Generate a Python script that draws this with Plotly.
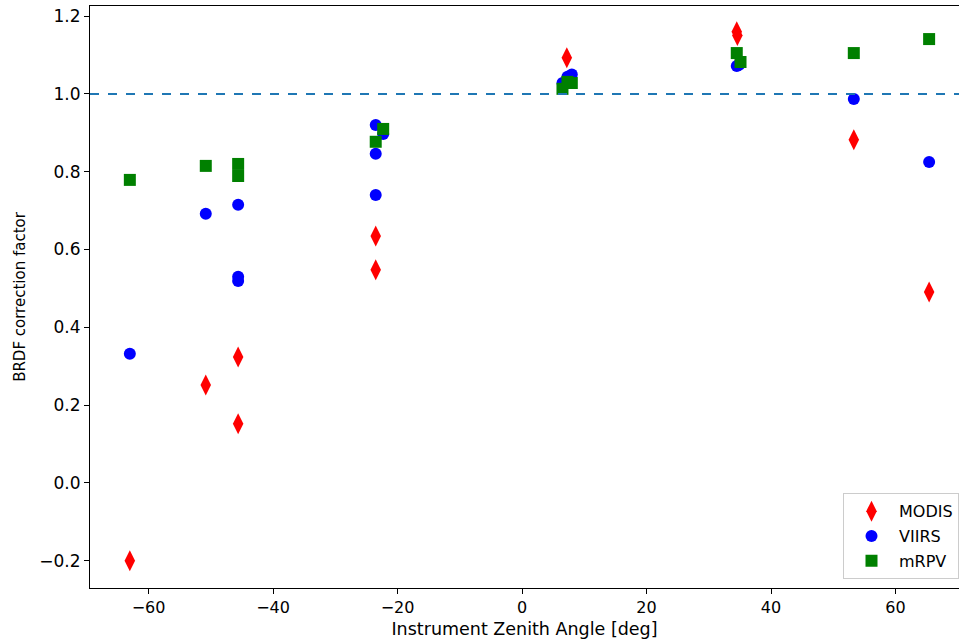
import plotly.graph_objects as go

# MODIS
modis_x = [-63.0, -50.8, -45.6, -45.6, -23.5, -23.5, 7.2, 34.5, 34.6, 53.3, 65.4]
modis_y = [-0.200, 0.252, 0.324, 0.152, 0.635, 0.548, 1.093, 1.160, 1.150, 0.882, 0.491]

# VIIRS
viirs_x = [-63.0, -50.8, -45.6, -45.6, -45.6, -23.5, -22.3, -23.5, -23.5, 6.5, 7.3, 8.0, 34.5, 34.9, 53.3, 65.4]
viirs_y = [0.332, 0.692, 0.715, 0.530, 0.519, 0.920, 0.897, 0.846, 0.740, 1.028, 1.044, 1.050, 1.072, 1.075, 0.987, 0.825]

# mRPV
mrpv_x = [-63.0, -50.8, -45.6, -45.6, -23.5, -22.3, 6.5, 7.3, 8.0, 34.5, 35.1, 53.3, 65.4]
mrpv_y = [0.779, 0.815, 0.820, 0.789, 0.877, 0.910, 1.013, 1.031, 1.028, 1.105, 1.082, 1.105, 1.141]

ref_value = 1.0

fig = go.Figure()
fig.add_trace(go.Scatter(x=modis_x, y=modis_y, mode="markers", name="MODIS", legendgroup="a",
                         marker=dict(symbol="diamond-tall", color="red", size=15, line=dict(width=0))))
fig.add_trace(go.Scatter(x=viirs_x, y=viirs_y, mode="markers", name="VIIRS", legendgroup="b",
                         marker=dict(symbol="circle", color="blue", size=12, line=dict(width=0))))
fig.add_trace(go.Scatter(x=mrpv_x, y=mrpv_y, mode="markers", name="mRPV", legendgroup="c",
                         marker=dict(symbol="square", color="green", size=12, line=dict(width=0))))

fig.add_hline(y=ref_value, line=dict(color="#1f77b4", dash="dash", width=2))

fig.update_layout(
    width=959, height=644,
    margin=dict(l=90, r=0, t=6, b=56, autoexpand=False),
    plot_bgcolor="white", paper_bgcolor="white",
    font=dict(family="DejaVu Sans", size=14, color="black"),
    showlegend=True,
    legend=dict(x=1.0, y=0.015, xanchor="right", yanchor="bottom",
                bordercolor="#cccccc", borderwidth=1, bgcolor="rgba(255,255,255,0.8)",
                font=dict(size=16), tracegroupgap=1, itemwidth=45),
)
fig.update_xaxes(range=[-69.4, 70.2], tickvals=[-60, -40, -20, 0, 20, 40, 60],
                 showline=True, linecolor="black", linewidth=1, mirror=True,
                 ticks="outside", ticklen=5, tickcolor="black", showgrid=False, zeroline=False,
                 tickfont=dict(size=16), automargin=False,
                 title=dict(text="Instrument Zenith Angle [deg]", standoff=6, font=dict(size=17.5)))
fig.update_yaxes(range=[-0.270, 1.226], tickvals=[-0.2, 0.0, 0.2, 0.4, 0.6, 0.8, 1.0, 1.2],
                 tickformat=".1f",
                 showline=True, linecolor="black", linewidth=1,
                 ticks="outside", ticklen=5, tickcolor="black", showgrid=False, zeroline=False,
                 tickfont=dict(size=17), automargin=False,
                 title=dict(text="BRDF correction factor", standoff=10, font=dict(size=15)))

fig.write_html("out.html", config={"displayModeBar": False},
               post_script="document.body.style.margin='0';")
